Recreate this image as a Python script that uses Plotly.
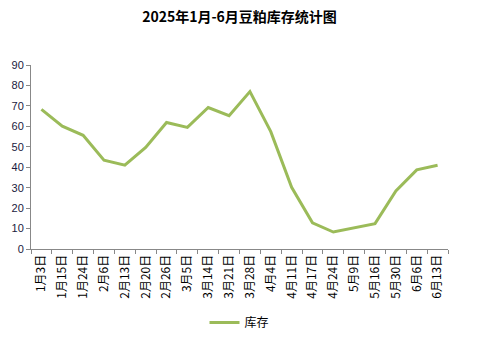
import plotly.graph_objects as go

dates = ["1月3日", "1月15日", "1月24日", "2月6日", "2月13日", "2月20日", "2月26日",
         "3月5日", "3月14日", "3月21日", "3月28日", "4月4日", "4月11日", "4月17日",
         "4月24日", "5月9日", "5月16日", "5月30日", "6月6日", "6月13日"]
stock = [68.3, 60.1, 55.6, 43.4, 41.0, 49.7, 61.9, 59.5, 69.2, 65.2, 77.0,
         57.4, 30.2, 12.8, 8.3, 10.2, 12.4, 28.4, 38.7, 41.0]
y_ticks = [0, 10, 20, 30, 40, 50, 60, 70, 80, 90]

fig = go.Figure()
fig.add_trace(go.Scatter(x=dates, y=stock, mode="lines", name="库存",
                         line=dict(color="#9BBB59", width=3)))

font_family = "Noto Sans CJK SC, Liberation Sans, sans-serif"
fig.update_layout(
    width=479, height=344,
    margin=dict(l=31, r=31, t=65, b=95, autoexpand=False),
    paper_bgcolor="white", plot_bgcolor="white",
    title=dict(text="<b>2025年1月-6月豆粕库存统计图</b>", x=0.5, xanchor="center",
               y=0.95, yanchor="middle",
               font=dict(family=font_family, size=14, color="black")),
    showlegend=True,
    legend=dict(orientation="h", x=0.5, xanchor="center", y=-0.4, yanchor="middle",
                font=dict(family=font_family, size=12, color="black"),
                itemwidth=30),
    font=dict(family=font_family, color="black"),
)
fig.update_xaxes(type="category", range=[-0.5, len(dates) - 0.5], automargin=False,
                 tickangle=-90, showline=True, linecolor="#888888",
                 linewidth=1, ticks="outside", tickson="boundaries", ticklen=4,
                 tickcolor="#888888", showgrid=False,
                 tickfont=dict(family=font_family, size=12, color="black"))
fig.update_yaxes(range=[0, 90], tickvals=y_ticks, automargin=False, showline=True,
                 linecolor="#888888", linewidth=1, ticks="outside", ticklen=4,
                 tickcolor="#888888", showgrid=False, zeroline=False,
                 tickfont=dict(family="Liberation Sans, sans-serif", size=11, color="#1a1a40"))

fig.write_html("out.html")
